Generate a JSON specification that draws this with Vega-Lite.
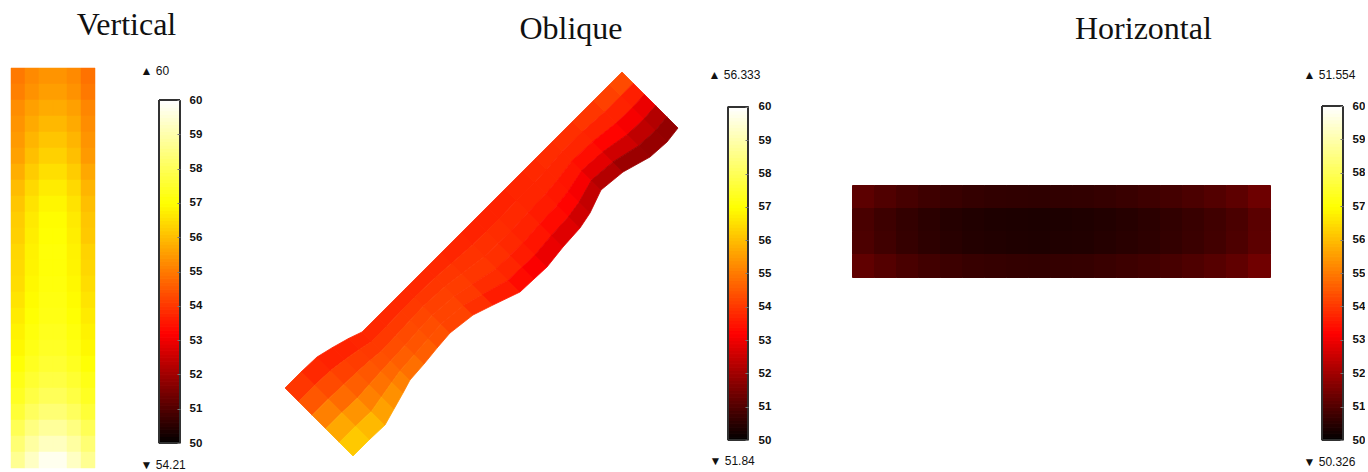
{
  "$schema": "https://vega.github.io/schema/vega-lite/v6.json",
  "background": "white",
  "padding": {"left": 10, "top": 9, "right": 0, "bottom": 0},
  "spacing": 81,
  "config": {
    "view": {"stroke": null},
    "font": "Liberation Sans",
    "title": {"font": "Liberation Serif", "fontSize": 32, "fontWeight": "normal", "color": "#111111", "anchor": "start", "dy": 3},
    "axis": {"labelFont": "Liberation Sans", "labelFontSize": 11.5, "labelFontWeight": "bold", "labelColor": "#111111", "titleFont": "Liberation Sans", "titleFontWeight": "normal", "titleFontSize": 12, "titleColor": "#111111"}
  },
  "datasets": {
    "bar": [
      {"v":50.05},{"v":50.15},{"v":50.25},{"v":50.35},{"v":50.45},{"v":50.55},{"v":50.65},{"v":50.75},{"v":50.85},{"v":50.95},
      {"v":51.05},{"v":51.15},{"v":51.25},{"v":51.35},{"v":51.45},{"v":51.55},{"v":51.65},{"v":51.75},{"v":51.85},{"v":51.95},
      {"v":52.05},{"v":52.15},{"v":52.25},{"v":52.35},{"v":52.45},{"v":52.55},{"v":52.65},{"v":52.75},{"v":52.85},{"v":52.95},
      {"v":53.05},{"v":53.15},{"v":53.25},{"v":53.35},{"v":53.45},{"v":53.55},{"v":53.65},{"v":53.75},{"v":53.85},{"v":53.95},
      {"v":54.05},{"v":54.15},{"v":54.25},{"v":54.35},{"v":54.45},{"v":54.55},{"v":54.65},{"v":54.75},{"v":54.85},{"v":54.95},
      {"v":55.05},{"v":55.15},{"v":55.25},{"v":55.35},{"v":55.45},{"v":55.55},{"v":55.65},{"v":55.75},{"v":55.85},{"v":55.95},
      {"v":56.05},{"v":56.15},{"v":56.25},{"v":56.35},{"v":56.45},{"v":56.55},{"v":56.65},{"v":56.75},{"v":56.85},{"v":56.95},
      {"v":57.05},{"v":57.15},{"v":57.25},{"v":57.35},{"v":57.45},{"v":57.55},{"v":57.65},{"v":57.75},{"v":57.85},{"v":57.95},
      {"v":58.05},{"v":58.15},{"v":58.25},{"v":58.35},{"v":58.45},{"v":58.55},{"v":58.65},{"v":58.75},{"v":58.85},{"v":58.95},
      {"v":59.05},{"v":59.15},{"v":59.25},{"v":59.35},{"v":59.45},{"v":59.55},{"v":59.65},{"v":59.75},{"v":59.85},{"v":59.95}
    ]
  },
  "hconcat": [
    {
      "title": {"text": "Vertical", "dx": 66, "offset": 25},
      "spacing": 44,
      "hconcat": [
        {
          "width": 84,
          "height": 400,
          "data": {"values": [
            {"c":0,"r":0,"v":55.0},{"c":1,"r":0,"v":55.25},{"c":2,"r":0,"v":55.4},{"c":3,"r":0,"v":55.4},{"c":4,"r":0,"v":55.25},{"c":5,"r":0,"v":54.9},
            {"c":0,"r":1,"v":55.1},{"c":1,"r":1,"v":55.38},{"c":2,"r":1,"v":55.55},{"c":3,"r":1,"v":55.55},{"c":4,"r":1,"v":55.38},{"c":5,"r":1,"v":55.0},
            {"c":0,"r":2,"v":55.3},{"c":1,"r":2,"v":55.58},{"c":2,"r":2,"v":55.75},{"c":3,"r":2,"v":55.75},{"c":4,"r":2,"v":55.58},{"c":5,"r":2,"v":55.2},
            {"c":0,"r":3,"v":55.4},{"c":1,"r":3,"v":55.73},{"c":2,"r":3,"v":55.94},{"c":3,"r":3,"v":55.94},{"c":4,"r":3,"v":55.73},{"c":5,"r":3,"v":55.3},
            {"c":0,"r":4,"v":55.5},{"c":1,"r":4,"v":55.89},{"c":2,"r":4,"v":56.13},{"c":3,"r":4,"v":56.13},{"c":4,"r":4,"v":55.89},{"c":5,"r":4,"v":55.4},
            {"c":0,"r":5,"v":55.6},{"c":1,"r":5,"v":56.04},{"c":2,"r":5,"v":56.32},{"c":3,"r":5,"v":56.32},{"c":4,"r":5,"v":56.04},{"c":5,"r":5,"v":55.5},
            {"c":0,"r":6,"v":55.8},{"c":1,"r":6,"v":56.24},{"c":2,"r":6,"v":56.52},{"c":3,"r":6,"v":56.52},{"c":4,"r":6,"v":56.24},{"c":5,"r":6,"v":55.7},
            {"c":0,"r":7,"v":56.0},{"c":1,"r":7,"v":56.44},{"c":2,"r":7,"v":56.72},{"c":3,"r":7,"v":56.72},{"c":4,"r":7,"v":56.44},{"c":5,"r":7,"v":55.9},
            {"c":0,"r":8,"v":56.15},{"c":1,"r":8,"v":56.59},{"c":2,"r":8,"v":56.87},{"c":3,"r":8,"v":56.87},{"c":4,"r":8,"v":56.59},{"c":5,"r":8,"v":56.05},
            {"c":0,"r":9,"v":56.25},{"c":1,"r":9,"v":56.69},{"c":2,"r":9,"v":56.97},{"c":3,"r":9,"v":56.97},{"c":4,"r":9,"v":56.69},{"c":5,"r":9,"v":56.15},
            {"c":0,"r":10,"v":56.3},{"c":1,"r":10,"v":56.74},{"c":2,"r":10,"v":57.02},{"c":3,"r":10,"v":57.02},{"c":4,"r":10,"v":56.74},{"c":5,"r":10,"v":56.2},
            {"c":0,"r":11,"v":56.4},{"c":1,"r":11,"v":56.81},{"c":2,"r":11,"v":57.08},{"c":3,"r":11,"v":57.08},{"c":4,"r":11,"v":56.81},{"c":5,"r":11,"v":56.35},
            {"c":0,"r":12,"v":56.45},{"c":1,"r":12,"v":56.84},{"c":2,"r":12,"v":57.08},{"c":3,"r":12,"v":57.08},{"c":4,"r":12,"v":56.84},{"c":5,"r":12,"v":56.4},
            {"c":0,"r":13,"v":56.5},{"c":1,"r":13,"v":56.89},{"c":2,"r":13,"v":57.13},{"c":3,"r":13,"v":57.13},{"c":4,"r":13,"v":56.89},{"c":5,"r":13,"v":56.5},
            {"c":0,"r":14,"v":56.6},{"c":1,"r":14,"v":56.96},{"c":2,"r":14,"v":57.19},{"c":3,"r":14,"v":57.19},{"c":4,"r":14,"v":56.96},{"c":5,"r":14,"v":56.6},
            {"c":0,"r":15,"v":56.7},{"c":1,"r":15,"v":57.03},{"c":2,"r":15,"v":57.24},{"c":3,"r":15,"v":57.24},{"c":4,"r":15,"v":57.03},{"c":5,"r":15,"v":56.7},
            {"c":0,"r":16,"v":56.8},{"c":1,"r":16,"v":57.13},{"c":2,"r":16,"v":57.34},{"c":3,"r":16,"v":57.34},{"c":4,"r":16,"v":57.13},{"c":5,"r":16,"v":56.8},
            {"c":0,"r":17,"v":56.9},{"c":1,"r":17,"v":57.23},{"c":2,"r":17,"v":57.44},{"c":3,"r":17,"v":57.44},{"c":4,"r":17,"v":57.23},{"c":5,"r":17,"v":56.9},
            {"c":0,"r":18,"v":57.05},{"c":1,"r":18,"v":57.38},{"c":2,"r":18,"v":57.59},{"c":3,"r":18,"v":57.59},{"c":4,"r":18,"v":57.38},{"c":5,"r":18,"v":57.05},
            {"c":0,"r":19,"v":57.25},{"c":1,"r":19,"v":57.58},{"c":2,"r":19,"v":57.79},{"c":3,"r":19,"v":57.79},{"c":4,"r":19,"v":57.58},{"c":5,"r":19,"v":57.25},
            {"c":0,"r":20,"v":57.4},{"c":1,"r":20,"v":57.79},{"c":2,"r":20,"v":58.03},{"c":3,"r":20,"v":58.03},{"c":4,"r":20,"v":57.79},{"c":5,"r":20,"v":57.4},
            {"c":0,"r":21,"v":57.65},{"c":1,"r":21,"v":58.09},{"c":2,"r":21,"v":58.37},{"c":3,"r":21,"v":58.37},{"c":4,"r":21,"v":58.09},{"c":5,"r":21,"v":57.65},
            {"c":0,"r":22,"v":58.0},{"c":1,"r":22,"v":58.5},{"c":2,"r":22,"v":58.81},{"c":3,"r":22,"v":58.81},{"c":4,"r":22,"v":58.5},{"c":5,"r":22,"v":58.0},
            {"c":0,"r":23,"v":58.35},{"c":1,"r":23,"v":58.9},{"c":2,"r":23,"v":59.25},{"c":3,"r":23,"v":59.25},{"c":4,"r":23,"v":58.9},{"c":5,"r":23,"v":58.35},
            {"c":0,"r":24,"v":58.7},{"c":1,"r":24,"v":59.3},{"c":2,"r":24,"v":59.8},{"c":3,"r":24,"v":59.8},{"c":4,"r":24,"v":59.3},{"c":5,"r":24,"v":58.7}
          ]},
          "mark": {"type": "rect", "strokeWidth": 0.5},
          "encoding": {
            "x": {"field": "c", "type": "ordinal", "axis": null, "scale": {"paddingInner": 0, "paddingOuter": 0}},
            "y": {"field": "r", "type": "ordinal", "axis": null, "scale": {"paddingInner": 0, "paddingOuter": 0}},
            "color": {"field": "v", "type": "quantitative", "legend": null, "scale": {"domain": [50, 53.2, 57, 60], "range": ["#000000", "#ff0000", "#ffff00", "#ffffff"], "interpolate": "rgb", "clamp": true}},
            "stroke": {"field": "v", "type": "quantitative", "legend": null, "scale": {"domain": [50, 53.2, 57, 60], "range": ["#000000", "#ff0000", "#ffff00", "#ffffff"], "interpolate": "rgb", "clamp": true}}
          }
        },
        {
          "width": 21,
          "height": 375,
          "data": {"name": "bar"},
          "layer": [
            {
              "mark": {"type": "rect", "strokeWidth": 1},
              "encoding": {
                "x": {"datum": 0, "type": "ordinal", "scale": {"paddingInner": 0, "paddingOuter": 0}, "axis": {"title": "▼ 54.21", "labels": false, "ticks": false, "domain": false, "titleAnchor": "start", "titleAlign": "left", "titleX": -19, "titleY": 21, "titleBaseline": "middle"}},
                "y": {"field": "v", "type": "quantitative", "bin": {"step": 0.1, "extent": [50, 60]}, "scale": {"domain": [50, 60.933], "nice": false, "zero": false}, "axis": {"orient": "right", "values": [50, 51, 52, 53, 54, 55, 56, 57, 58, 59, 60], "format": "d", "title": "▲ 60", "titleAngle": 0, "titleX": -40, "titleY": 2, "titleAlign": "left", "titleBaseline": "middle", "grid": false, "domain": false, "tickSize": -3, "tickColor": "#777777", "labelPadding": 12}},
                "color": {"field": "v", "type": "quantitative", "legend": null, "scale": {"domain": [50, 53.2, 57, 60], "range": ["#000000", "#ff0000", "#ffff00", "#ffffff"], "interpolate": "rgb", "clamp": true}},
                "stroke": {"field": "v", "type": "quantitative", "legend": null, "scale": {"domain": [50, 53.2, 57, 60], "range": ["#000000", "#ff0000", "#ffff00", "#ffffff"], "interpolate": "rgb", "clamp": true}}
              }
            },
            {
              "mark": {"type": "rect", "filled": false, "stroke": "#333333", "strokeWidth": 1},
              "encoding": {
                "x": {"datum": 0, "type": "ordinal", "axis": {"title": "▼ 54.21", "labels": false, "ticks": false, "domain": false, "titleAnchor": "start", "titleAlign": "left", "titleX": -19, "titleY": 21, "titleBaseline": "middle"}},
                "y": {"datum": 50, "type": "quantitative", "axis": {"orient": "right", "values": [50, 51, 52, 53, 54, 55, 56, 57, 58, 59, 60], "format": "d", "title": "▲ 60", "titleAngle": 0, "titleX": -40, "titleY": 2, "titleAlign": "left", "titleBaseline": "middle", "grid": false, "domain": false, "tickSize": -3, "tickColor": "#777777", "labelPadding": 12}},
                "y2": {"datum": 60}
              }
            }
          ]
        }
      ]
    },
    {
      "title": {"text": "Oblique", "dx": 236, "offset": 25},
      "spacing": 28,
      "hconcat": [
        {
          "width": 393,
          "height": 392,
          "projection": {"type": "identity"},
          "data": {"values": [
            {"type":"Feature","properties":{"v":54.0},"geometry":{"type":"Polygon","coordinates":[[[285,388],[301.5,371.5],[315.1,385.1],[298.6,401.6],[285,388]]]}},
            {"type":"Feature","properties":{"v":54.5},"geometry":{"type":"Polygon","coordinates":[[[298.6,401.6],[315.1,385.1],[328.7,398.7],[312.2,415.2],[298.6,401.6]]]}},
            {"type":"Feature","properties":{"v":55.1},"geometry":{"type":"Polygon","coordinates":[[[312.2,415.2],[328.7,398.7],[342.3,412.3],[325.8,428.8],[312.2,415.2]]]}},
            {"type":"Feature","properties":{"v":55.7},"geometry":{"type":"Polygon","coordinates":[[[325.8,428.8],[342.3,412.3],[355.9,425.9],[339.4,442.4],[325.8,428.8]]]}},
            {"type":"Feature","properties":{"v":56.2},"geometry":{"type":"Polygon","coordinates":[[[339.4,442.4],[355.9,425.9],[369.5,439.5],[353,456],[339.4,442.4]]]}},

            {"type":"Feature","properties":{"v":53.8},"geometry":{"type":"Polygon","coordinates":[[[301.5,371.5],[317,357],[330.6,370.6],[315.1,385.1],[301.5,371.5]]]}},
            {"type":"Feature","properties":{"v":54.3},"geometry":{"type":"Polygon","coordinates":[[[315.1,385.1],[330.6,370.6],[344.2,384.2],[328.7,398.7],[315.1,385.1]]]}},
            {"type":"Feature","properties":{"v":54.8},"geometry":{"type":"Polygon","coordinates":[[[328.7,398.7],[344.2,384.2],[357.8,397.8],[342.3,412.3],[328.7,398.7]]]}},
            {"type":"Feature","properties":{"v":55.4},"geometry":{"type":"Polygon","coordinates":[[[342.3,412.3],[357.8,397.8],[371.4,411.4],[355.9,425.9],[342.3,412.3]]]}},
            {"type":"Feature","properties":{"v":55.95},"geometry":{"type":"Polygon","coordinates":[[[355.9,425.9],[371.4,411.4],[385,425],[369.5,439.5],[355.9,425.9]]]}},

            {"type":"Feature","properties":{"v":53.7},"geometry":{"type":"Polygon","coordinates":[[[317,357],[332.5,347.5],[344.8,359.8],[330.6,370.6],[317,357]]]}},
            {"type":"Feature","properties":{"v":54.15},"geometry":{"type":"Polygon","coordinates":[[[330.6,370.6],[344.8,359.8],[357.1,372.1],[344.2,384.2],[330.6,370.6]]]}},
            {"type":"Feature","properties":{"v":54.6},"geometry":{"type":"Polygon","coordinates":[[[344.2,384.2],[357.1,372.1],[369.4,384.4],[357.8,397.8],[344.2,384.2]]]}},
            {"type":"Feature","properties":{"v":55.1},"geometry":{"type":"Polygon","coordinates":[[[357.8,397.8],[369.4,384.4],[381.7,396.7],[371.4,411.4],[357.8,397.8]]]}},
            {"type":"Feature","properties":{"v":55.6},"geometry":{"type":"Polygon","coordinates":[[[371.4,411.4],[381.7,396.7],[394,409],[385,425],[371.4,411.4]]]}},

            {"type":"Feature","properties":{"v":53.7},"geometry":{"type":"Polygon","coordinates":[[[332.5,347.5],[348.5,338.5],[359.4,349.4],[344.8,359.8],[332.5,347.5]]]}},
            {"type":"Feature","properties":{"v":54.1},"geometry":{"type":"Polygon","coordinates":[[[344.8,359.8],[359.4,349.4],[370.3,360.3],[357.1,372.1],[344.8,359.8]]]}},
            {"type":"Feature","properties":{"v":54.5},"geometry":{"type":"Polygon","coordinates":[[[357.1,372.1],[370.3,360.3],[381.2,371.2],[369.4,384.4],[357.1,372.1]]]}},
            {"type":"Feature","properties":{"v":54.9},"geometry":{"type":"Polygon","coordinates":[[[369.4,384.4],[381.2,371.2],[392.1,382.1],[381.7,396.7],[369.4,384.4]]]}},
            {"type":"Feature","properties":{"v":55.35},"geometry":{"type":"Polygon","coordinates":[[[381.7,396.7],[392.1,382.1],[403,393],[394,409],[381.7,396.7]]]}},

            {"type":"Feature","properties":{"v":53.75},"geometry":{"type":"Polygon","coordinates":[[[348.5,338.5],[362,332],[371.6,341.6],[359.4,349.4],[348.5,338.5]]]}},
            {"type":"Feature","properties":{"v":54.05},"geometry":{"type":"Polygon","coordinates":[[[359.4,349.4],[371.6,341.6],[381.2,351.2],[370.3,360.3],[359.4,349.4]]]}},
            {"type":"Feature","properties":{"v":54.4},"geometry":{"type":"Polygon","coordinates":[[[370.3,360.3],[381.2,351.2],[390.8,360.8],[381.2,371.2],[370.3,360.3]]]}},
            {"type":"Feature","properties":{"v":54.75},"geometry":{"type":"Polygon","coordinates":[[[381.2,371.2],[390.8,360.8],[400.4,370.4],[392.1,382.1],[381.2,371.2]]]}},
            {"type":"Feature","properties":{"v":55.1},"geometry":{"type":"Polygon","coordinates":[[[392.1,382.1],[400.4,370.4],[410,380],[403,393],[392.1,382.1]]]}},

            {"type":"Feature","properties":{"v":53.8},"geometry":{"type":"Polygon","coordinates":[[[362,332],[377,317],[386.4,326.4],[371.6,341.6],[362,332]]]}},
            {"type":"Feature","properties":{"v":54.05},"geometry":{"type":"Polygon","coordinates":[[[371.6,341.6],[386.4,326.4],[395.8,335.8],[381.2,351.2],[371.6,341.6]]]}},
            {"type":"Feature","properties":{"v":54.35},"geometry":{"type":"Polygon","coordinates":[[[381.2,351.2],[395.8,335.8],[405.2,345.2],[390.8,360.8],[381.2,351.2]]]}},
            {"type":"Feature","properties":{"v":54.6},"geometry":{"type":"Polygon","coordinates":[[[390.8,360.8],[405.2,345.2],[414.6,354.6],[400.4,370.4],[390.8,360.8]]]}},
            {"type":"Feature","properties":{"v":54.85},"geometry":{"type":"Polygon","coordinates":[[[400.4,370.4],[414.6,354.6],[424,364],[410,380],[400.4,370.4]]]}},

            {"type":"Feature","properties":{"v":53.8},"geometry":{"type":"Polygon","coordinates":[[[377,317],[392,302],[401.1,311.1],[386.4,326.4],[377,317]]]}},
            {"type":"Feature","properties":{"v":54.05},"geometry":{"type":"Polygon","coordinates":[[[386.4,326.4],[401.1,311.1],[410.2,320.2],[395.8,335.8],[386.4,326.4]]]}},
            {"type":"Feature","properties":{"v":54.3},"geometry":{"type":"Polygon","coordinates":[[[395.8,335.8],[410.2,320.2],[419.3,329.3],[405.2,345.2],[395.8,335.8]]]}},
            {"type":"Feature","properties":{"v":54.45},"geometry":{"type":"Polygon","coordinates":[[[405.2,345.2],[419.3,329.3],[428.4,338.4],[414.6,354.6],[405.2,345.2]]]}},
            {"type":"Feature","properties":{"v":54.6},"geometry":{"type":"Polygon","coordinates":[[[414.6,354.6],[428.4,338.4],[437.5,347.5],[424,364],[414.6,354.6]]]}},

            {"type":"Feature","properties":{"v":53.8},"geometry":{"type":"Polygon","coordinates":[[[392,302],[405.5,288.5],[414.4,297.4],[401.1,311.1],[392,302]]]}},
            {"type":"Feature","properties":{"v":54.05},"geometry":{"type":"Polygon","coordinates":[[[401.1,311.1],[414.4,297.4],[423.3,306.3],[410.2,320.2],[401.1,311.1]]]}},
            {"type":"Feature","properties":{"v":54.25},"geometry":{"type":"Polygon","coordinates":[[[410.2,320.2],[423.3,306.3],[432.2,315.2],[419.3,329.3],[410.2,320.2]]]}},
            {"type":"Feature","properties":{"v":54.35},"geometry":{"type":"Polygon","coordinates":[[[419.3,329.3],[432.2,315.2],[441.1,324.1],[428.4,338.4],[419.3,329.3]]]}},
            {"type":"Feature","properties":{"v":54.4},"geometry":{"type":"Polygon","coordinates":[[[428.4,338.4],[441.1,324.1],[450,333],[437.5,347.5],[428.4,338.4]]]}},

            {"type":"Feature","properties":{"v":53.8},"geometry":{"type":"Polygon","coordinates":[[[405.5,288.5],[426,268],[435.4,277.4],[414.4,297.4],[405.5,288.5]]]}},
            {"type":"Feature","properties":{"v":54.0},"geometry":{"type":"Polygon","coordinates":[[[414.4,297.4],[435.4,277.4],[444.8,286.8],[423.3,306.3],[414.4,297.4]]]}},
            {"type":"Feature","properties":{"v":54.15},"geometry":{"type":"Polygon","coordinates":[[[423.3,306.3],[444.8,286.8],[454.2,296.2],[432.2,315.2],[423.3,306.3]]]}},
            {"type":"Feature","properties":{"v":54.2},"geometry":{"type":"Polygon","coordinates":[[[432.2,315.2],[454.2,296.2],[463.6,305.6],[441.1,324.1],[432.2,315.2]]]}},
            {"type":"Feature","properties":{"v":54.2},"geometry":{"type":"Polygon","coordinates":[[[441.1,324.1],[463.6,305.6],[473,315],[450,333],[441.1,324.1]]]}},

            {"type":"Feature","properties":{"v":53.8},"geometry":{"type":"Polygon","coordinates":[[[426,268],[441,253],[451.4,263.4],[435.4,277.4],[426,268]]]}},
            {"type":"Feature","properties":{"v":54.0},"geometry":{"type":"Polygon","coordinates":[[[435.4,277.4],[451.4,263.4],[461.8,273.8],[444.8,286.8],[435.4,277.4]]]}},
            {"type":"Feature","properties":{"v":54.1},"geometry":{"type":"Polygon","coordinates":[[[444.8,286.8],[461.8,273.8],[472.2,284.2],[454.2,296.2],[444.8,286.8]]]}},
            {"type":"Feature","properties":{"v":54.05},"geometry":{"type":"Polygon","coordinates":[[[454.2,296.2],[472.2,284.2],[482.6,294.6],[463.6,305.6],[454.2,296.2]]]}},
            {"type":"Feature","properties":{"v":53.9},"geometry":{"type":"Polygon","coordinates":[[[463.6,305.6],[482.6,294.6],[493,305],[473,315],[463.6,305.6]]]}},

            {"type":"Feature","properties":{"v":53.75},"geometry":{"type":"Polygon","coordinates":[[[441,253],[461,233],[472.8,244.8],[451.4,263.4],[441,253]]]}},
            {"type":"Feature","properties":{"v":53.95},"geometry":{"type":"Polygon","coordinates":[[[451.4,263.4],[472.8,244.8],[484.6,256.6],[461.8,273.8],[451.4,263.4]]]}},
            {"type":"Feature","properties":{"v":54.0},"geometry":{"type":"Polygon","coordinates":[[[461.8,273.8],[484.6,256.6],[496.4,268.4],[472.2,284.2],[461.8,273.8]]]}},
            {"type":"Feature","properties":{"v":53.85},"geometry":{"type":"Polygon","coordinates":[[[472.2,284.2],[496.4,268.4],[508.2,280.2],[482.6,294.6],[472.2,284.2]]]}},
            {"type":"Feature","properties":{"v":53.6},"geometry":{"type":"Polygon","coordinates":[[[482.6,294.6],[508.2,280.2],[520,292],[493,305],[482.6,294.6]]]}},

            {"type":"Feature","properties":{"v":53.7},"geometry":{"type":"Polygon","coordinates":[[[461,233],[474.5,219.5],[486.4,231.4],[472.8,244.8],[461,233]]]}},
            {"type":"Feature","properties":{"v":53.9},"geometry":{"type":"Polygon","coordinates":[[[472.8,244.8],[486.4,231.4],[498.3,243.3],[484.6,256.6],[472.8,244.8]]]}},
            {"type":"Feature","properties":{"v":53.9},"geometry":{"type":"Polygon","coordinates":[[[484.6,256.6],[498.3,243.3],[510.2,255.2],[496.4,268.4],[484.6,256.6]]]}},
            {"type":"Feature","properties":{"v":53.75},"geometry":{"type":"Polygon","coordinates":[[[496.4,268.4],[510.2,255.2],[522.1,267.1],[508.2,280.2],[496.4,268.4]]]}},
            {"type":"Feature","properties":{"v":53.35},"geometry":{"type":"Polygon","coordinates":[[[508.2,280.2],[522.1,267.1],[534,279],[520,292],[508.2,280.2]]]}},

            {"type":"Feature","properties":{"v":53.7},"geometry":{"type":"Polygon","coordinates":[[[474.5,219.5],[487,207],[499,219],[486.4,231.4],[474.5,219.5]]]}},
            {"type":"Feature","properties":{"v":53.85},"geometry":{"type":"Polygon","coordinates":[[[486.4,231.4],[499,219],[511,231],[498.3,243.3],[486.4,231.4]]]}},
            {"type":"Feature","properties":{"v":53.8},"geometry":{"type":"Polygon","coordinates":[[[498.3,243.3],[511,231],[523,243],[510.2,255.2],[498.3,243.3]]]}},
            {"type":"Feature","properties":{"v":53.6},"geometry":{"type":"Polygon","coordinates":[[[510.2,255.2],[523,243],[535,255],[522.1,267.1],[510.2,255.2]]]}},
            {"type":"Feature","properties":{"v":53.15},"geometry":{"type":"Polygon","coordinates":[[[522.1,267.1],[535,255],[547,267],[534,279],[522.1,267.1]]]}},

            {"type":"Feature","properties":{"v":53.7},"geometry":{"type":"Polygon","coordinates":[[[487,207],[505,189],[516.6,200.6],[499,219],[487,207]]]}},
            {"type":"Feature","properties":{"v":53.8},"geometry":{"type":"Polygon","coordinates":[[[499,219],[516.6,200.6],[528.2,212.2],[511,231],[499,219]]]}},
            {"type":"Feature","properties":{"v":53.7},"geometry":{"type":"Polygon","coordinates":[[[511,231],[528.2,212.2],[539.8,223.8],[523,243],[511,231]]]}},
            {"type":"Feature","properties":{"v":53.5},"geometry":{"type":"Polygon","coordinates":[[[523,243],[539.8,223.8],[551.4,235.4],[535,255],[523,243]]]}},
            {"type":"Feature","properties":{"v":52.95},"geometry":{"type":"Polygon","coordinates":[[[535,255],[551.4,235.4],[563,247],[547,267],[535,255]]]}},

            {"type":"Feature","properties":{"v":53.75},"geometry":{"type":"Polygon","coordinates":[[[505,189],[523,171],[534.4,182.4],[516.6,200.6],[505,189]]]}},
            {"type":"Feature","properties":{"v":53.75},"geometry":{"type":"Polygon","coordinates":[[[516.6,200.6],[534.4,182.4],[545.8,193.8],[528.2,212.2],[516.6,200.6]]]}},
            {"type":"Feature","properties":{"v":53.6},"geometry":{"type":"Polygon","coordinates":[[[528.2,212.2],[545.8,193.8],[557.2,205.2],[539.8,223.8],[528.2,212.2]]]}},
            {"type":"Feature","properties":{"v":53.35},"geometry":{"type":"Polygon","coordinates":[[[539.8,223.8],[557.2,205.2],[568.6,216.6],[551.4,235.4],[539.8,223.8]]]}},
            {"type":"Feature","properties":{"v":52.8},"geometry":{"type":"Polygon","coordinates":[[[551.4,235.4],[568.6,216.6],[580,228],[563,247],[551.4,235.4]]]}},

            {"type":"Feature","properties":{"v":53.8},"geometry":{"type":"Polygon","coordinates":[[[523,171],[535.5,158.5],[546.4,169.4],[534.4,182.4],[523,171]]]}},
            {"type":"Feature","properties":{"v":53.75},"geometry":{"type":"Polygon","coordinates":[[[534.4,182.4],[546.4,169.4],[557.3,180.3],[545.8,193.8],[534.4,182.4]]]}},
            {"type":"Feature","properties":{"v":53.55},"geometry":{"type":"Polygon","coordinates":[[[545.8,193.8],[557.3,180.3],[568.2,191.2],[557.2,205.2],[545.8,193.8]]]}},
            {"type":"Feature","properties":{"v":53.25},"geometry":{"type":"Polygon","coordinates":[[[557.2,205.2],[568.2,191.2],[579.1,202.1],[568.6,216.6],[557.2,205.2]]]}},
            {"type":"Feature","properties":{"v":52.6},"geometry":{"type":"Polygon","coordinates":[[[568.6,216.6],[579.1,202.1],[590,213],[580,228],[568.6,216.6]]]}},

            {"type":"Feature","properties":{"v":53.85},"geometry":{"type":"Polygon","coordinates":[[[535.5,158.5],[552.5,141.5],[562.2,151.2],[546.4,169.4],[535.5,158.5]]]}},
            {"type":"Feature","properties":{"v":53.75},"geometry":{"type":"Polygon","coordinates":[[[546.4,169.4],[562.2,151.2],[571.9,160.9],[557.3,180.3],[546.4,169.4]]]}},
            {"type":"Feature","properties":{"v":53.5},"geometry":{"type":"Polygon","coordinates":[[[557.3,180.3],[571.9,160.9],[581.6,170.6],[568.2,191.2],[557.3,180.3]]]}},
            {"type":"Feature","properties":{"v":53.1},"geometry":{"type":"Polygon","coordinates":[[[568.2,191.2],[581.6,170.6],[591.3,180.3],[579.1,202.1],[568.2,191.2]]]}},
            {"type":"Feature","properties":{"v":52.45},"geometry":{"type":"Polygon","coordinates":[[[579.1,202.1],[591.3,180.3],[601,190],[590,213],[579.1,202.1]]]}},

            {"type":"Feature","properties":{"v":53.9},"geometry":{"type":"Polygon","coordinates":[[[552.5,141.5],[572.5,121.5],[582.6,131.6],[562.2,151.2],[552.5,141.5]]]}},
            {"type":"Feature","properties":{"v":53.75},"geometry":{"type":"Polygon","coordinates":[[[562.2,151.2],[582.6,131.6],[592.7,141.7],[571.9,160.9],[562.2,151.2]]]}},
            {"type":"Feature","properties":{"v":53.4},"geometry":{"type":"Polygon","coordinates":[[[571.9,160.9],[592.7,141.7],[602.8,151.8],[581.6,170.6],[571.9,160.9]]]}},
            {"type":"Feature","properties":{"v":52.85},"geometry":{"type":"Polygon","coordinates":[[[581.6,170.6],[602.8,151.8],[612.9,161.9],[591.3,180.3],[581.6,170.6]]]}},
            {"type":"Feature","properties":{"v":52.25},"geometry":{"type":"Polygon","coordinates":[[[591.3,180.3],[612.9,161.9],[623,172],[601,190],[591.3,180.3]]]}},

            {"type":"Feature","properties":{"v":54.0},"geometry":{"type":"Polygon","coordinates":[[[572.5,121.5],[593.5,100.5],[604.8,111.8],[582.6,131.6],[572.5,121.5]]]}},
            {"type":"Feature","properties":{"v":53.7},"geometry":{"type":"Polygon","coordinates":[[[582.6,131.6],[604.8,111.8],[616.1,123.1],[592.7,141.7],[582.6,131.6]]]}},
            {"type":"Feature","properties":{"v":53.25},"geometry":{"type":"Polygon","coordinates":[[[592.7,141.7],[616.1,123.1],[627.4,134.4],[602.8,151.8],[592.7,141.7]]]}},
            {"type":"Feature","properties":{"v":52.6},"geometry":{"type":"Polygon","coordinates":[[[602.8,151.8],[627.4,134.4],[638.7,145.7],[612.9,161.9],[602.8,151.8]]]}},
            {"type":"Feature","properties":{"v":51.95},"geometry":{"type":"Polygon","coordinates":[[[612.9,161.9],[638.7,145.7],[650,157],[623,172],[612.9,161.9]]]}},

            {"type":"Feature","properties":{"v":54.15},"geometry":{"type":"Polygon","coordinates":[[[593.5,100.5],[609.5,84.5],[621,96],[604.8,111.8],[593.5,100.5]]]}},
            {"type":"Feature","properties":{"v":53.7},"geometry":{"type":"Polygon","coordinates":[[[604.8,111.8],[621,96],[632.5,107.5],[616.1,123.1],[604.8,111.8]]]}},
            {"type":"Feature","properties":{"v":53.1},"geometry":{"type":"Polygon","coordinates":[[[616.1,123.1],[632.5,107.5],[644,119],[627.4,134.4],[616.1,123.1]]]}},
            {"type":"Feature","properties":{"v":52.4},"geometry":{"type":"Polygon","coordinates":[[[627.4,134.4],[644,119],[655.5,130.5],[638.7,145.7],[627.4,134.4]]]}},
            {"type":"Feature","properties":{"v":51.9},"geometry":{"type":"Polygon","coordinates":[[[638.7,145.7],[655.5,130.5],[667,142],[650,157],[638.7,145.7]]]}},

            {"type":"Feature","properties":{"v":54.3},"geometry":{"type":"Polygon","coordinates":[[[609.5,84.5],[622,72],[633.2,83.2],[621,96],[609.5,84.5]]]}},
            {"type":"Feature","properties":{"v":53.65},"geometry":{"type":"Polygon","coordinates":[[[621,96],[633.2,83.2],[644.4,94.4],[632.5,107.5],[621,96]]]}},
            {"type":"Feature","properties":{"v":52.95},"geometry":{"type":"Polygon","coordinates":[[[632.5,107.5],[644.4,94.4],[655.6,105.6],[644,119],[632.5,107.5]]]}},
            {"type":"Feature","properties":{"v":52.25},"geometry":{"type":"Polygon","coordinates":[[[644,119],[655.6,105.6],[666.8,116.8],[655.5,130.5],[644,119]]]}},
            {"type":"Feature","properties":{"v":51.85},"geometry":{"type":"Polygon","coordinates":[[[655.5,130.5],[666.8,116.8],[678,128],[667,142],[655.5,130.5]]]}}
          ]},
          "mark": {"type": "geoshape", "strokeWidth": 0.8},
          "encoding": {
            "color": {"field": "properties.v", "type": "quantitative", "legend": null, "scale": {"domain": [50, 53.2, 57, 60], "range": ["#000000", "#ff0000", "#ffff00", "#ffffff"], "interpolate": "rgb", "clamp": true}},
            "stroke": {"field": "properties.v", "type": "quantitative", "legend": null, "scale": {"domain": [50, 53.2, 57, 60], "range": ["#000000", "#ff0000", "#ffff00", "#ffffff"], "interpolate": "rgb", "clamp": true}}
          }
        },
        {
          "width": 20,
          "height": 372,
          "data": {"name": "bar"},
          "layer": [
            {
              "mark": {"type": "rect", "strokeWidth": 1},
              "encoding": {
                "x": {"datum": 0, "type": "ordinal", "scale": {"paddingInner": 0, "paddingOuter": 0}, "axis": {"title": "▼ 51.84", "labels": false, "ticks": false, "domain": false, "titleAnchor": "start", "titleAlign": "left", "titleX": -19, "titleY": 20, "titleBaseline": "middle"}},
                "y": {"field": "v", "type": "quantitative", "bin": {"step": 0.1, "extent": [50, 60]}, "scale": {"domain": [50, 61.171], "nice": false, "zero": false}, "axis": {"orient": "right", "values": [50, 51, 52, 53, 54, 55, 56, 57, 58, 59, 60], "format": "d", "title": "▲ 56.333", "titleAngle": 0, "titleX": -40, "titleY": 6, "titleAlign": "left", "titleBaseline": "middle", "grid": false, "domain": false, "tickSize": -3, "tickColor": "#777777", "labelPadding": 13}},
                "color": {"field": "v", "type": "quantitative", "legend": null, "scale": {"domain": [50, 53.2, 57, 60], "range": ["#000000", "#ff0000", "#ffff00", "#ffffff"], "interpolate": "rgb", "clamp": true}},
                "stroke": {"field": "v", "type": "quantitative", "legend": null, "scale": {"domain": [50, 53.2, 57, 60], "range": ["#000000", "#ff0000", "#ffff00", "#ffffff"], "interpolate": "rgb", "clamp": true}}
              }
            },
            {
              "mark": {"type": "rect", "filled": false, "stroke": "#333333", "strokeWidth": 1},
              "encoding": {
                "x": {"datum": 0, "type": "ordinal", "axis": {"title": "▼ 51.84", "labels": false, "ticks": false, "domain": false, "titleAnchor": "start", "titleAlign": "left", "titleX": -19, "titleY": 20, "titleBaseline": "middle"}},
                "y": {"datum": 50, "type": "quantitative", "axis": {"orient": "right", "values": [50, 51, 52, 53, 54, 55, 56, 57, 58, 59, 60], "format": "d", "title": "▲ 56.333", "titleAngle": 0, "titleX": -40, "titleY": 6, "titleAlign": "left", "titleBaseline": "middle", "grid": false, "domain": false, "tickSize": -3, "tickColor": "#777777", "labelPadding": 13}},
                "y2": {"datum": 60}
              }
            }
          ]
        }
      ]
    },
    {
      "title": {"text": "Horizontal", "dx": 223, "offset": 25},
      "spacing": 32,
      "hconcat": [
        {
          "width": 418,
          "height": 345,
          "data": {"values": [
            {"c":0,"r":0,"v":51.16},{"c":1,"r":0,"v":51.01},{"c":2,"r":0,"v":50.88},{"c":3,"r":0,"v":50.78},{"c":4,"r":0,"v":50.71},{"c":5,"r":0,"v":50.65},{"c":6,"r":0,"v":50.62},{"c":7,"r":0,"v":50.60},{"c":8,"r":0,"v":50.59},{"c":9,"r":0,"v":50.61},
            {"c":10,"r":0,"v":50.63},{"c":11,"r":0,"v":50.67},{"c":12,"r":0,"v":50.72},{"c":13,"r":0,"v":50.78},{"c":14,"r":0,"v":50.85},{"c":15,"r":0,"v":50.94},{"c":16,"r":0,"v":51.04},{"c":17,"r":0,"v":51.17},{"c":18,"r":0,"v":51.37},
            {"c":0,"r":1,"v":50.92},{"c":1,"r":1,"v":50.77},{"c":2,"r":1,"v":50.64},{"c":3,"r":1,"v":50.54},{"c":4,"r":1,"v":50.47},{"c":5,"r":1,"v":50.41},{"c":6,"r":1,"v":50.38},{"c":7,"r":1,"v":50.36},{"c":8,"r":1,"v":50.35},{"c":9,"r":1,"v":50.37},
            {"c":10,"r":1,"v":50.39},{"c":11,"r":1,"v":50.43},{"c":12,"r":1,"v":50.48},{"c":13,"r":1,"v":50.54},{"c":14,"r":1,"v":50.61},{"c":15,"r":1,"v":50.70},{"c":16,"r":1,"v":50.80},{"c":17,"r":1,"v":50.93},{"c":18,"r":1,"v":51.13},
            {"c":0,"r":2,"v":50.95},{"c":1,"r":2,"v":50.80},{"c":2,"r":2,"v":50.67},{"c":3,"r":2,"v":50.57},{"c":4,"r":2,"v":50.50},{"c":5,"r":2,"v":50.44},{"c":6,"r":2,"v":50.41},{"c":7,"r":2,"v":50.39},{"c":8,"r":2,"v":50.38},{"c":9,"r":2,"v":50.40},
            {"c":10,"r":2,"v":50.42},{"c":11,"r":2,"v":50.46},{"c":12,"r":2,"v":50.51},{"c":13,"r":2,"v":50.57},{"c":14,"r":2,"v":50.64},{"c":15,"r":2,"v":50.73},{"c":16,"r":2,"v":50.83},{"c":17,"r":2,"v":50.96},{"c":18,"r":2,"v":51.16},
            {"c":0,"r":3,"v":51.20},{"c":1,"r":3,"v":51.05},{"c":2,"r":3,"v":50.92},{"c":3,"r":3,"v":50.82},{"c":4,"r":3,"v":50.75},{"c":5,"r":3,"v":50.69},{"c":6,"r":3,"v":50.66},{"c":7,"r":3,"v":50.64},{"c":8,"r":3,"v":50.63},{"c":9,"r":3,"v":50.65},
            {"c":10,"r":3,"v":50.67},{"c":11,"r":3,"v":50.71},{"c":12,"r":3,"v":50.76},{"c":13,"r":3,"v":50.82},{"c":14,"r":3,"v":50.89},{"c":15,"r":3,"v":50.98},{"c":16,"r":3,"v":51.08},{"c":17,"r":3,"v":51.21},{"c":18,"r":3,"v":51.41}
          ]},
          "mark": {"type": "rect", "strokeWidth": 1},
          "encoding": {
            "x": {"field": "c", "type": "quantitative", "bin": {"binned": true, "step": 1}, "axis": null, "scale": {"domain": [0, 19], "nice": false, "zero": false}},
            "y": {"field": "r", "type": "quantitative", "bin": {"binned": true, "step": 1}, "axis": null, "scale": {"domain": [-5.087, 9.913], "nice": false, "zero": false, "reverse": true}},
            "color": {"field": "v", "type": "quantitative", "legend": null, "scale": {"domain": [50, 53.2, 57, 60], "range": ["#000000", "#ff0000", "#ffff00", "#ffffff"], "interpolate": "rgb", "clamp": true}},
            "stroke": {"field": "v", "type": "quantitative", "legend": null, "scale": {"domain": [50, 53.2, 57, 60], "range": ["#000000", "#ff0000", "#ffff00", "#ffffff"], "interpolate": "rgb", "clamp": true}}
          }
        },
        {
          "width": 21,
          "height": 372,
          "data": {"name": "bar"},
          "layer": [
            {
              "mark": {"type": "rect", "strokeWidth": 1},
              "encoding": {
                "x": {"datum": 0, "type": "ordinal", "scale": {"paddingInner": 0, "paddingOuter": 0}, "axis": {"title": "▼ 50.326", "labels": false, "ticks": false, "domain": false, "titleAnchor": "start", "titleAlign": "left", "titleX": -19, "titleY": 21, "titleBaseline": "middle"}},
                "y": {"field": "v", "type": "quantitative", "bin": {"step": 0.1, "extent": [50, 60]}, "scale": {"domain": [50, 61.138], "nice": false, "zero": false}, "axis": {"orient": "right", "values": [50, 51, 52, 53, 54, 55, 56, 57, 58, 59, 60], "format": "d", "title": "▲ 51.554", "titleAngle": 0, "titleX": -40, "titleY": 6, "titleAlign": "left", "titleBaseline": "middle", "grid": false, "domain": false, "tickSize": -3, "tickColor": "#777777", "labelPadding": 12}},
                "color": {"field": "v", "type": "quantitative", "legend": null, "scale": {"domain": [50, 53.2, 57, 60], "range": ["#000000", "#ff0000", "#ffff00", "#ffffff"], "interpolate": "rgb", "clamp": true}},
                "stroke": {"field": "v", "type": "quantitative", "legend": null, "scale": {"domain": [50, 53.2, 57, 60], "range": ["#000000", "#ff0000", "#ffff00", "#ffffff"], "interpolate": "rgb", "clamp": true}}
              }
            },
            {
              "mark": {"type": "rect", "filled": false, "stroke": "#333333", "strokeWidth": 1},
              "encoding": {
                "x": {"datum": 0, "type": "ordinal", "axis": {"title": "▼ 50.326", "labels": false, "ticks": false, "domain": false, "titleAnchor": "start", "titleAlign": "left", "titleX": -19, "titleY": 21, "titleBaseline": "middle"}},
                "y": {"datum": 50, "type": "quantitative", "axis": {"orient": "right", "values": [50, 51, 52, 53, 54, 55, 56, 57, 58, 59, 60], "format": "d", "title": "▲ 51.554", "titleAngle": 0, "titleX": -40, "titleY": 6, "titleAlign": "left", "titleBaseline": "middle", "grid": false, "domain": false, "tickSize": -3, "tickColor": "#777777", "labelPadding": 12}},
                "y2": {"datum": 60}
              }
            }
          ]
        }
      ]
    }
  ]
}
